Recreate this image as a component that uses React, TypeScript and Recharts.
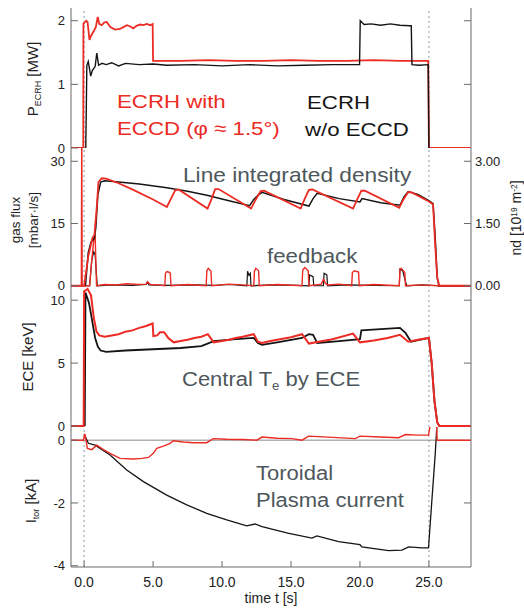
import React from 'react';
import { LineChart, Line, XAxis, YAxis, ReferenceLine } from 'recharts';

const RED = '#ec2b24';
const BLACK = '#151515';
const GRAY_TXT = '#4d575c';
const AXIS = '#6a6a6a';
const FONT = 'Arial, "Liberation Sans", Helvetica, sans-serif';

const T_DOMAIN: [number, number] = [-0.95, 28.05];
const T_TICKS = [0, 5, 10, 15, 20, 25];

// Panel 1: P_ECRH [MW]
const pRedT = [-0.95, -0.06, -0.05, 0.15, 0.25, 0.39, 0.5, 0.68, 0.85, 0.99, 1.1, 1.28, 1.45, 1.64, 1.9, 2.25, 2.6, 2.85, 3.1, 3.35, 3.57, 3.8, 4.06, 4.3, 4.54, 4.8, 4.97, 5.0, 7, 9, 11, 13, 15, 17, 19, 21, 23, 24.95, 25.0, 28.05];
const pRedV = [0, 0, 1.95, 2.0, 1.98, 1.7, 1.76, 1.83, 1.9, 2.06, 1.95, 1.93, 1.97, 1.98, 1.9, 1.86, 1.87, 1.9, 1.93, 1.91, 1.88, 1.92, 1.94, 1.93, 1.95, 1.93, 1.95, 1.37, 1.37, 1.38, 1.37, 1.37, 1.38, 1.37, 1.37, 1.38, 1.37, 1.37, 0, 0];
const pBlkT = [0.12, 0.2, 0.3, 0.48, 0.6, 0.8, 0.92, 1.05, 1.3, 1.6, 2, 2.5, 3, 4, 5, 6, 8, 10, 12, 14, 16, 18, 19.97, 20.02, 20.3, 20.8, 21.5, 22.2, 22.9, 23.6, 23.72, 23.77, 24.3, 24.95, 25.0];
const pBlkV = [0, 1.3, 1.36, 1.13, 1.22, 1.28, 1.49, 1.3, 1.33, 1.31, 1.34, 1.29, 1.33, 1.31, 1.32, 1.3, 1.31, 1.29, 1.31, 1.29, 1.3, 1.31, 1.31, 2.0, 1.94, 1.95, 1.93, 1.95, 1.93, 1.92, 1.92, 1.31, 1.3, 1.31, 0];

// Panel 2: line integrated density nd [10^19 m^-2]
const ndRedT = [-0.95, 0.0, 0.3, 0.6, 0.75, 0.92, 1.04, 1.28, 1.6, 2.5, 3.57, 5.0, 6.0, 6.3, 6.6, 6.85, 8.95, 9.25, 9.5, 9.75, 12.1, 12.45, 12.8, 13.05, 15.7, 16.0, 16.3, 16.55, 19.5, 19.8, 20.1, 20.35, 22.85, 23.15, 23.5, 23.75, 25.0, 25.3, 25.45, 25.6, 25.75, 28.05];
const ndRedV = [0, 0, 0.7, 1.15, 1.23, 1.9, 2.5, 2.59, 2.58, 2.47, 2.31, 2.08, 1.9, 2.1, 2.3, 2.32, 1.86, 2.1, 2.33, 2.33, 1.86, 2.08, 2.28, 2.29, 1.86, 2.1, 2.31, 2.32, 1.86, 2.08, 2.29, 2.29, 1.88, 2.08, 2.26, 2.25, 2.03, 1.96, 1.0, 0.2, 0, 0];
const ndBlkT = [0.1, 0.3, 0.5, 0.75, 0.85, 1.0, 1.2, 1.5, 2.5, 4.0, 6.0, 7.5, 8.9, 10.5, 12.0, 12.3, 12.6, 12.9, 14.5, 16.3, 16.6, 16.9, 18.5, 20.0, 20.15, 21.5, 22.9, 23.2, 23.5, 24.2, 25.0, 25.3, 25.45, 25.6, 25.72, 28.05];
const ndBlkV = [0, 0.8, 1.05, 1.15, 1.4, 2.2, 2.5, 2.53, 2.5, 2.45, 2.36, 2.28, 2.18, 2.05, 1.93, 2.08, 2.18, 2.25, 2.08, 1.92, 2.1, 2.23, 2.1, 2.02, 2.1, 2.0, 1.94, 2.15, 2.27, 2.2, 2.05, 1.98, 1.2, 0.2, 0, 0];

// Panel 2: gas flux (feedback) [mbar l/s]
const gRedT = [-0.95, -0.2, -0.17, -0.14, 0.4, 0.55, 0.7, 0.8, 0.9, 1.5, 2.3, 3.1, 3.9, 4.5, 4.6, 4.8, 5.4, 5.85, 5.9, 6.0, 6.2, 6.25, 6.3, 7.5, 8.85, 8.9, 9.0, 9.2, 9.25, 10.5, 11.5, 12.3, 12.35, 12.45, 12.65, 12.7, 14, 15.8, 15.85, 16.0, 16.25, 16.3, 17.2, 17.35, 17.5, 17.65, 18.5, 19.4, 19.45, 19.6, 19.9, 19.95, 21, 22.85, 22.9, 23.0, 23.25, 23.3, 24.5, 25.7, 28.05];
const gRedV = [0, 0, 40, 0, 0, 6, 11, 12.3, 0, 0.3, 0.2, 0.5, 0.3, 0.4, 1.0, 0.3, 0.2, 0, 3.0, 3.4, 3.2, 3.0, 0, 0.3, 0, 3.6, 4.2, 3.5, 0, 0.4, 0.2, 0, 3.5, 4.2, 3.6, 0, 0.3, 0, 3.8, 4.4, 3.6, 0, 0.4, 1.6, 0.6, 0.2, 0.4, 0, 3.2, 3.6, 3.3, 0, 0.3, 0, 4.0, 4.2, 3.2, 0, 0.2, 0, 0];
const gBlkT = [-0.95, 0.4, 0.55, 0.7, 0.8, 0.95, 2, 3.5, 4.5, 4.6, 4.7, 6, 8, 9.5, 10.5, 11.0, 11.8, 11.85, 11.95, 12.05, 12.1, 13.5, 15.5, 16.3, 16.35, 16.6, 16.65, 17.35, 17.4, 17.6, 17.65, 19, 21, 22.85, 22.9, 23.1, 23.3, 23.4, 24.5, 25.7, 28.05];
const gBlkV = [0, 0, 6, 8.2, 7.5, 0, 0.2, 0.1, 0.3, 0.9, 0.2, 0.1, 0.2, 0.1, 0.3, 0.2, 0, 3.5, 2.5, 3.0, 0, 0.2, 0.1, 0, 2.6, 2.2, 0, 0, 3.0, 2.6, 0, 0.2, 0.1, 0, 4.0, 3.6, 1.0, 0, 0.2, 0, 0];

// Panel 3: ECE [keV]
const eRedT = [-0.95, -0.03, 0.0, 0.25, 0.5, 0.7, 0.9, 1.1, 1.5, 2.0, 2.5, 3.0, 3.5, 4.0, 4.5, 4.97, 5.02, 5.3, 5.5, 5.8, 6.1, 6.5, 7.0, 7.5, 8.0, 8.5, 8.97, 9.4, 10.0, 10.5, 11.0, 11.5, 12.3, 12.6, 12.9, 13.5, 14.2, 15.0, 15.8, 16.3, 17, 18, 19.5, 20.0, 21, 22, 22.9, 23.5, 24.2, 25.0, 25.2, 25.4, 25.6, 25.75, 28.05];
const eRedV = [0, 0, 10.7, 10.9, 10.4, 8.6, 7.5, 7.2, 7.1, 7.2, 7.3, 7.5, 7.6, 7.8, 7.95, 8.15, 7.15, 7.2, 7.45, 7.45, 7.0, 6.65, 6.75, 6.85, 7.0, 7.1, 7.3, 6.65, 6.75, 6.85, 7.0, 7.1, 7.3, 6.7, 6.6, 6.75, 6.9, 7.05, 7.3, 6.55, 6.7, 6.9, 7.35, 6.65, 6.8, 7.0, 7.25, 6.7, 6.85, 7.0, 5.0, 2.0, 0.3, 0, 0];
const eBlkT = [0.05, 0.1, 0.35, 0.5, 0.8, 1.0, 1.2, 1.6, 3, 5, 7, 8.5, 9.4, 11, 12.3, 12.6, 12.9, 14, 15.8, 16.3, 16.6, 16.9, 18.5, 20.0, 20.1, 21.5, 22.9, 23.3, 23.7, 24.3, 25.0, 25.2, 25.4, 25.6, 25.75, 28.05];
const eBlkV = [0, 10.6, 9.8, 8.9, 7.0, 6.3, 6.0, 5.9, 6.0, 6.1, 6.2, 6.35, 6.75, 6.9, 7.0, 6.6, 6.45, 6.65, 7.0, 7.3, 7.25, 6.6, 6.75, 6.9, 7.6, 7.7, 7.8, 7.4, 6.7, 6.85, 7.0, 5.0, 2.0, 0.3, 0, 0];

// Panel 4: I_tor [kA]
const iRedT = [-0.95, -0.05, 0.05, 0.24, 0.56, 0.92, 1.4, 1.88, 2.61, 3.57, 4.2, 4.66, 5.02, 5.27, 5.8, 6.23, 6.47, 7.2, 7.92, 8.89, 9.37, 10.34, 11.5, 12.51, 12.9, 14, 15.07, 15.8, 16.28, 18, 19.66, 20.0, 21.5, 22.8, 23.3, 24.2, 24.97, 25.1, 25.55, 25.6, 28.05];
const iRedV = [0, 0, 0.2, -0.26, -0.3, -0.16, -0.3, -0.42, -0.58, -0.6, -0.58, -0.55, -0.42, -0.26, -0.18, -0.1, -0.02, -0.06, -0.08, -0.08, 0.05, 0.03, 0.02, 0.0, 0.1, 0.06, 0.05, 0.0, 0.13, 0.09, 0.05, 0.13, 0.1, 0.08, 0.18, 0.16, 0.16, 0.5, 0.5, 0, 0];
const iBlkT = [0.0, 0.31, 0.8, 1.16, 1.88, 3.09, 4.3, 5.99, 7.44, 8.89, 10.34, 11.79, 12.39, 12.9, 14.76, 16.52, 16.88, 18.45, 20.0, 20.14, 22.08, 23.04, 23.53, 24.5, 24.97, 25.2, 25.46, 25.58];
const iBlkV = [0.2, -0.1, -0.16, -0.26, -0.47, -0.95, -1.32, -1.75, -2.06, -2.33, -2.54, -2.73, -2.67, -2.75, -2.96, -3.12, -3.05, -3.23, -3.33, -3.4, -3.52, -3.5, -3.4, -3.43, -3.43, -2.0, -0.42, 0.5];

type Pt = { t: number; v: number };
const pts = (t: number[], v: number[]): Pt[] => t.map((x, i) => ({ t: x, v: v[i] }));

interface LineSpec { data: Pt[]; color: string; w: number; axis?: 'l' | 'r' }

interface PanelProps {
  top: number;
  h: number;
  yDomain: [number, number];
  yTicks: number[];
  yFmt: (v: number) => string;
  rDomain: [number, number];
  rTicks: number[];
  rFmt?: (v: number) => string;
  lines: LineSpec[];
  bottomLabels?: boolean;
  zeroLine?: boolean;
}

const blank = () => '';

function Panel(p: PanelProps) {
  const M = 10;
  const extra = p.bottomLabels ? 30 : 0;
  const H = p.h + 2 * M + extra;
  const tickStyle = { fill: '#222', fontSize: 13 };
  return (
    <div style={{ position: 'absolute', left: 0, top: p.top - M, width: 524, height: H }}>
      <LineChart width={524} height={H} margin={{ top: M, right: 0, bottom: M, left: 0 }}>
        <XAxis xAxisId="b" type="number" dataKey="t" domain={T_DOMAIN} ticks={T_TICKS} allowDataOverflow
          orientation="bottom" height={p.bottomLabels ? 30 : 0} tickSize={-6} tickMargin={p.bottomLabels ? 16 : 0}
          tickFormatter={p.bottomLabels ? (v: number) => v.toFixed(1) : blank}
          stroke={AXIS} tick={{ fill: '#222', fontSize: 14 }} />
        <XAxis xAxisId="t" type="number" dataKey="t" domain={T_DOMAIN} ticks={T_TICKS} allowDataOverflow
          orientation="top" height={0} tickSize={-6} tickFormatter={blank} stroke={AXIS} tick={tickStyle} />
        <YAxis yAxisId="l" type="number" domain={p.yDomain} ticks={p.yTicks} allowDataOverflow width={71}
          tickSize={-7} tickMargin={13} tickFormatter={p.yFmt} stroke={AXIS} tick={tickStyle} />
        <YAxis yAxisId="r" orientation="right" type="number" domain={p.rDomain} ticks={p.rTicks} allowDataOverflow width={53}
          tickSize={-7} tickMargin={11} tickFormatter={p.rFmt ?? blank} stroke={AXIS} tick={tickStyle} />
        {p.zeroLine && <ReferenceLine xAxisId="b" yAxisId="l" y={0} stroke="#b0b0b0" strokeWidth={1.5} />}
        <ReferenceLine xAxisId="b" yAxisId="l" x={0} stroke="#8e9aa3" strokeDasharray="2 3" />
        <ReferenceLine xAxisId="b" yAxisId="l" x={25} stroke="#8e9aa3" strokeDasharray="2 3" />
        {p.lines.map((s, i) => (
          <Line key={i} xAxisId="b" yAxisId={s.axis === 'r' ? 'r' : 'l'} data={s.data} dataKey="v" type="linear"
            stroke={s.color} strokeWidth={s.w} dot={false} activeDot={false} isAnimationActive={false} />
        ))}
      </LineChart>
    </div>
  );
}

function Note(props: { x: number; baseline: number; size: number; color: string; sx?: number; children: React.ReactNode }) {
  return (
    <div style={{
      position: 'absolute', left: props.x, top: props.baseline - 0.85 * props.size, fontSize: props.size,
      lineHeight: 1, color: props.color, whiteSpace: 'nowrap', transform: `scaleX(${props.sx ?? 1})`, transformOrigin: 'left top',
    }}>{props.children}</div>
  );
}

function VLabel(props: { cx: number; cy: number; size: number; color?: string; children: React.ReactNode }) {
  return (
    <div style={{
      position: 'absolute', left: props.cx, top: props.cy, fontSize: props.size, lineHeight: 1, color: props.color ?? '#222',
      whiteSpace: 'nowrap', transform: 'translate(-50%, -50%) rotate(-90deg)',
    }}>{props.children}</div>
  );
}

const Sub = ({ children }: { children: React.ReactNode }) => (
  <span style={{ fontSize: '0.6em', position: 'relative', top: '0.3em' }}>{children}</span>
);
const Sup = ({ children }: { children: React.ReactNode }) => (
  <span style={{ fontSize: '0.6em', position: 'relative', top: '-0.45em' }}>{children}</span>
);

export default function App() {
  return (
    <div style={{ position: 'absolute', left: 0, top: 0, width: 524, height: 610, background: '#fff', fontFamily: FONT }}>
      <Panel top={8} h={140} yDomain={[0, 2.2]} yTicks={[0, 1, 2]} yFmt={(v) => String(v)}
        rDomain={[0, 2.2]} rTicks={[1, 2]}
        lines={[
          { data: pts(pRedT, pRedV), color: RED, w: 1.8 },
          { data: pts(pBlkT, pBlkV), color: BLACK, w: 1.4 },
        ]} />
      <Panel top={148} h={139} yDomain={[-0.3, 33.2]} yTicks={[0, 15, 30]} yFmt={(v) => String(v)}
        rDomain={[-0.03, 3.32]} rTicks={[0, 1.5, 3]} rFmt={(v) => v.toFixed(2)}
        lines={[
          { data: pts(gBlkT, gBlkV), color: BLACK, w: 1.2 },
          { data: pts(gRedT, gRedV), color: RED, w: 1.4 },
          { data: pts(ndBlkT, ndBlkV), color: BLACK, w: 1.5, axis: 'r' },
          { data: pts(ndRedT, ndRedV), color: RED, w: 1.8, axis: 'r' },
        ]} />
      <Panel top={287} h={140} yDomain={[-0.08, 11.05]} yTicks={[0, 5, 10]} yFmt={(v) => String(v)}
        rDomain={[-0.08, 11.05]} rTicks={[5, 10]}
        lines={[
          { data: pts(eBlkT, eBlkV), color: BLACK, w: 1.8 },
          { data: pts(eRedT, eRedV), color: RED, w: 2 },
        ]} />
      <Panel top={427} h={140} yDomain={[-4.04, 0.42]} yTicks={[-4, -2, 0]} yFmt={(v) => String(v)}
        rDomain={[-4.04, 0.42]} rTicks={[-2]} zeroLine bottomLabels
        lines={[
          { data: pts(iBlkT, iBlkV), color: BLACK, w: 1.3 },
          { data: pts(iRedT, iRedV), color: RED, w: 1.4 },
        ]} />

      <Note x={117} baseline={108.5} size={19} color={RED} sx={1.17}>ECRH with</Note>
      <Note x={117} baseline={135} size={19} color={RED} sx={1.17}>ECCD (φ ≈ 1.5°)</Note>
      <Note x={306.5} baseline={109.5} size={19} color={BLACK} sx={1.17}>ECRH</Note>
      <Note x={305} baseline={136} size={19} color={BLACK} sx={1.17}>w/o ECCD</Note>
      <Note x={183} baseline={181.7} size={21} color={GRAY_TXT} sx={1.08}>Line integrated density</Note>
      <Note x={266.7} baseline={263.3} size={21} color={GRAY_TXT} sx={1.06}>feedback</Note>
      <Note x={181.7} baseline={386} size={20} color={GRAY_TXT} sx={1.1}>Central T<Sub>e</Sub> by ECE</Note>
      <Note x={256} baseline={480} size={20} color={GRAY_TXT} sx={1.1}>Toroidal</Note>
      <Note x={256} baseline={506.7} size={20} color={GRAY_TXT} sx={1.1}>Plasma current</Note>

      <VLabel cx={32} cy={79} size={15}>P<Sub>ECRH</Sub> [MW]</VLabel>
      <VLabel cx={16} cy={220} size={13.5}>gas flux</VLabel>
      <VLabel cx={34} cy={220} size={13.5}>[mbar·l/s]</VLabel>
      <VLabel cx={27} cy={357} size={15}>ECE [keV]</VLabel>
      <VLabel cx={30} cy={501} size={15}>I<Sub>tor</Sub> [kA]</VLabel>
      <VLabel cx={516} cy={218} size={14}>nd [10<Sup>19</Sup> m<Sup>-2</Sup>]</VLabel>
      <div style={{ position: 'absolute', left: 271, top: 598, transform: 'translate(-50%, -50%)', fontSize: 14, color: '#222', whiteSpace: 'nowrap' }}>
        time t [s]
      </div>
    </div>
  );
}
